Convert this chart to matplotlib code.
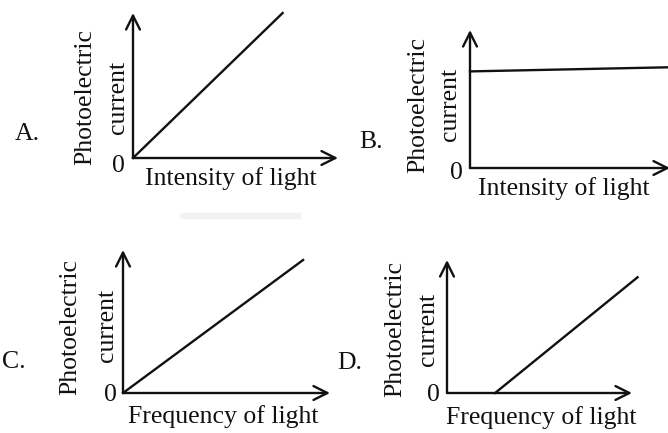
import matplotlib.pyplot as plt

W, H = 668, 433

# lines of the four sketches (axis units 0-10 on both axes)
a_x = [0, 7.3]
a_y = [0, 10]
b_x = [0, 10]
b_y = [7.0, 7.3]
c_x = [0, 8.7]
c_y = [0, 9.3]
d_x = [2.6, 10.3]
d_y = [0, 8.7]

letters = ['A.', 'B.', 'C.', 'D.']
xlabels = ['Intensity of light', 'Intensity of light',
           'Frequency of light', 'Frequency of light']

plt.rcParams['font.family'] = ['Liberation Serif', 'DejaVu Serif']

fig = plt.figure(figsize=(W / 100, H / 100), dpi=100)
fig.patch.set_facecolor('white')


def fx(px):
    return px / W


def fy(py):
    return 1 - py / H


def panel(left, right, top, bottom):
    ax = fig.add_axes([fx(left), fy(bottom), (right - left) / W, (bottom - top) / H])
    ax.set_xlim(0, 10)
    ax.set_ylim(0, 10)
    ax.axis('off')
    arrow = dict(arrowstyle='->', lw=1.7, color='#111111', mutation_scale=25,
                 shrinkA=0, shrinkB=0)
    ax.annotate('', xy=(1, 0), xytext=(0, 0), xycoords='axes fraction',
                arrowprops=arrow, annotation_clip=False)
    ax.annotate('', xy=(0, 1), xytext=(0, 0), xycoords='axes fraction',
                arrowprops=arrow, annotation_clip=False)
    return ax


axA = panel(133, 338, 13, 158)
axA.plot(a_x, a_y, color='#111111', lw=1.7, clip_on=False)
axB = panel(470, 670, 30, 168)
axB.plot(b_x, b_y, color='#111111', lw=1.7, clip_on=False)
axC = panel(123, 330, 250, 393)
axC.plot(c_x, c_y, color='#111111', lw=1.7, clip_on=False)
axD = panel(447, 632, 260, 393)
axD.plot(d_x, d_y, color='#111111', lw=1.7, clip_on=False)

# labels (pixel positions of the centres)
fs = 18.5
txt = dict(fontsize=fs, color='#111111', ha='center', va='center')
layout = [
    # letter, zero, xlabel, photo, current
    ((27, 134), (118, 166), (231, 179), (85, 97), (118, 97)),
    ((371, 142), (456, 173), (564, 189), (418, 105), (450, 104)),
    ((14, 362), (110, 395), (223, 417), (70, 327), (107, 325)),
    ((350, 363), (433, 395), (541, 418), (395, 329), (428, 329)),
]
for i, (let, zero, xl, ph, cu) in enumerate(layout):
    fig.text(fx(let[0]), fy(let[1]), letters[i], **txt)
    fig.text(fx(zero[0]), fy(zero[1]), '0', **txt)
    fig.text(fx(xl[0]), fy(xl[1]), xlabels[i], **txt)
    fig.text(fx(ph[0]), fy(ph[1]), 'Photoelectric', rotation=90, **txt)
    fig.text(fx(cu[0]), fy(cu[1]), 'current', rotation=90, **txt)

# faint watermark band
fig.patches.append(plt.Rectangle((fx(180), fy(218)), 120 / W, 5 / H,
                                 transform=fig.transFigure, color='#f3f3f3', zorder=0))

fig.savefig('out.png', dpi=100)
